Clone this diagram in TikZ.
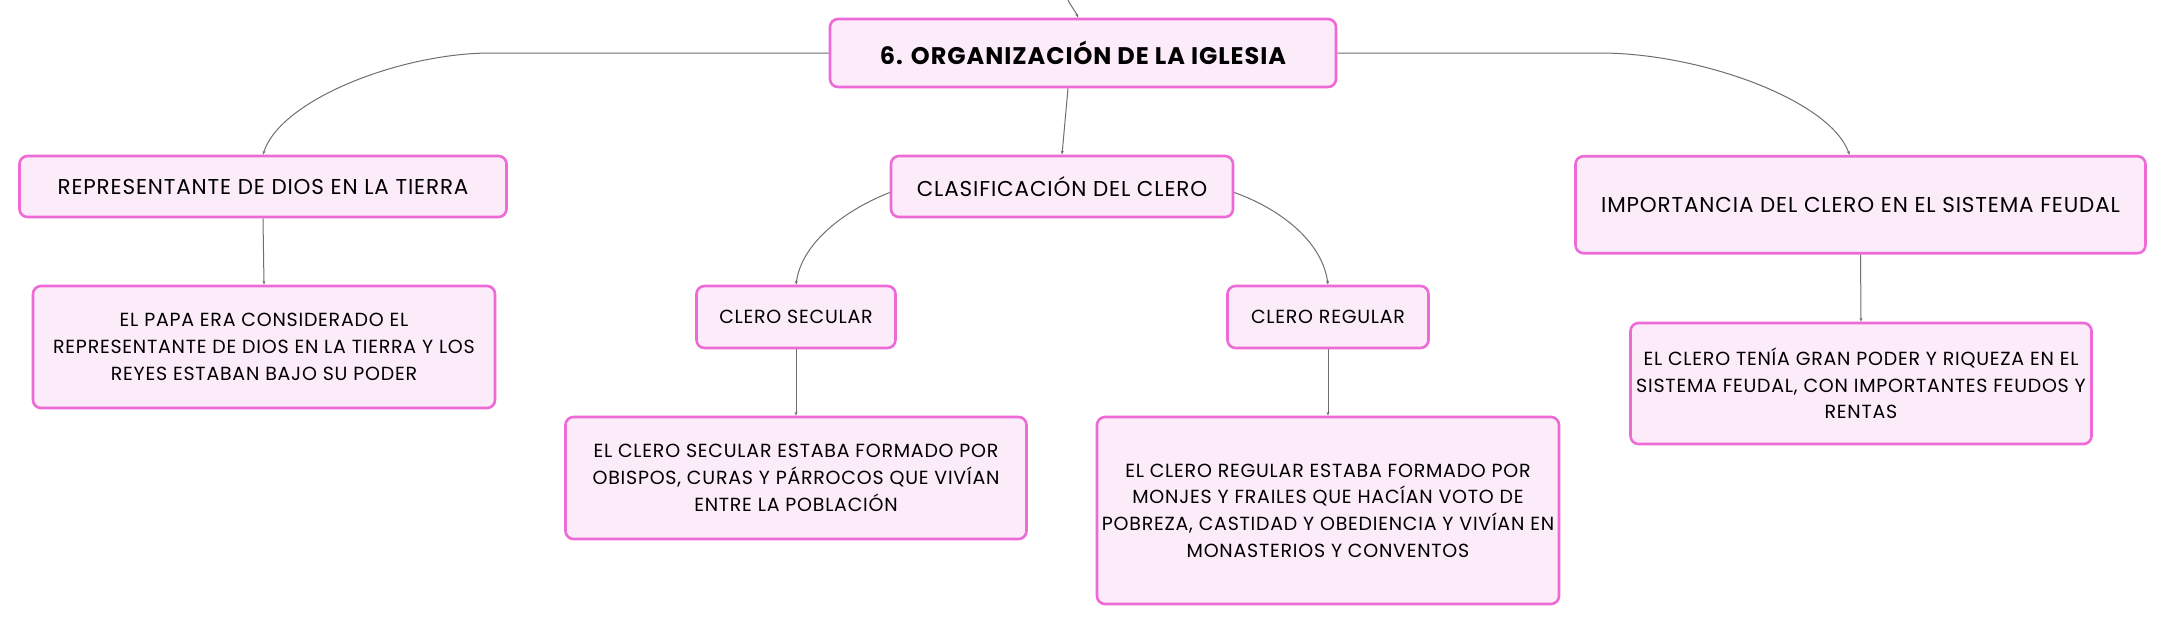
\documentclass[tikz,border=0pt]{standalone}
\usepackage{fontspec}
\setmainfont{Poppins}[LetterSpace=4]
\usepackage{xcolor}
\usepackage{tikz}
\usetikzlibrary{positioning,calc,arrows.meta}

\definecolor{boxline}{HTML}{EE6AD6}
\definecolor{boxfill}{HTML}{FCEBF9}
\definecolor{linkgray}{HTML}{6E6E6E}

\tikzset{
    box/.style={draw=boxline, fill=boxfill, line width=2.6pt, rounded corners=8pt,
        inner sep=0pt, align=center, text=black},
    head/.style={box, font=\fontsize{21.5}{26}\selectfont},
    desc/.style={box, font=\fontsize{19}{26.7}\selectfont},
    link/.style={draw=linkgray, line width=1pt, -{Stealth[length=4pt,width=3pt]}}
}

\begin{document}
\begin{tikzpicture}[x=1pt, y=-1pt]
    \useasboundingbox (0,0) rectangle (2167,624);

    % main topic
    \node[box, minimum width=506, minimum height=68, font=\fontsize{24}{28}\selectfont\bfseries] (root) at (1083,53) {6. ORGANIZACIÓN DE LA IGLESIA};
    \coordinate (up) at (1068,0);

    % branches
    \node[head, minimum width=487, minimum height=61] (rep) at (263,186.5) {REPRESENTANTE DE DIOS EN LA TIERRA};
    \node[head, minimum width=342, minimum height=61] (clasif) at (1062,186.5) {CLASIFICACIÓN DEL CLERO};
    \node[head, minimum width=570, minimum height=97] (imp) at (1860.5,204.7) {IMPORTANCIA DEL CLERO EN EL SISTEMA FEUDAL};

    \node[desc, minimum width=199, minimum height=62] (secular) at (796,317) {CLERO SECULAR};
    \node[desc, minimum width=201, minimum height=62] (regular) at (1328,317) {CLERO REGULAR};

    % descriptions
    \node[desc, minimum width=462, minimum height=122] (papa) at (264,347) {EL PAPA ERA CONSIDERADO EL\\REPRESENTANTE DE DIOS EN LA TIERRA Y LOS\\REYES ESTABAN BAJO SU PODER};
    \node[desc, minimum width=461, minimum height=122] (secdesc) at (796,478) {EL CLERO SECULAR ESTABA FORMADO POR\\OBISPOS, CURAS Y PÁRROCOS QUE VIVÍAN\\ENTRE LA POBLACIÓN};
    \node[desc, minimum width=462, minimum height=187] (regdesc) at (1328,510.5) {EL CLERO REGULAR ESTABA FORMADO POR\\MONJES Y FRAILES QUE HACÍAN VOTO DE\\POBREZA, CASTIDAD Y OBEDIENCIA Y VIVÍAN EN\\MONASTERIOS Y CONVENTOS};
    \node[desc, minimum width=461, minimum height=121] (impdesc) at (1861,383.5) {EL CLERO TENÍA GRAN PODER Y RIQUEZA EN EL\\SISTEMA FEUDAL, CON IMPORTANTES FEUDOS Y\\RENTAS};

    % connectors
    \draw[link] (up) .. controls (1072,8) and (1076,12) .. ([xshift=-5pt]root.north);
    \draw[link] (root.west) -- (491,53) .. controls (400,53) and (280,100) .. (rep.north);
    \draw[link] (root.east) -- (1600,53) .. controls (1700,53) and (1830,100) .. ([xshift=-11pt]imp.north);
    \draw[link] ([xshift=-15pt]root.south) -- (clasif.north);
    \draw[link] ([yshift=-6pt]clasif.west) .. controls (850,208) and (802,240) .. (secular.north);
    \draw[link] ([yshift=-6pt]clasif.east) .. controls (1278,208) and (1322,240) .. (regular.north);
    \draw[link] (rep.south) -- (papa.north);
    \draw[link] (secular.south) -- (secdesc.north);
    \draw[link] (regular.south) -- (regdesc.north);
    \draw[link] (imp.south) -- (impdesc.north);
\end{tikzpicture}
\end{document}
